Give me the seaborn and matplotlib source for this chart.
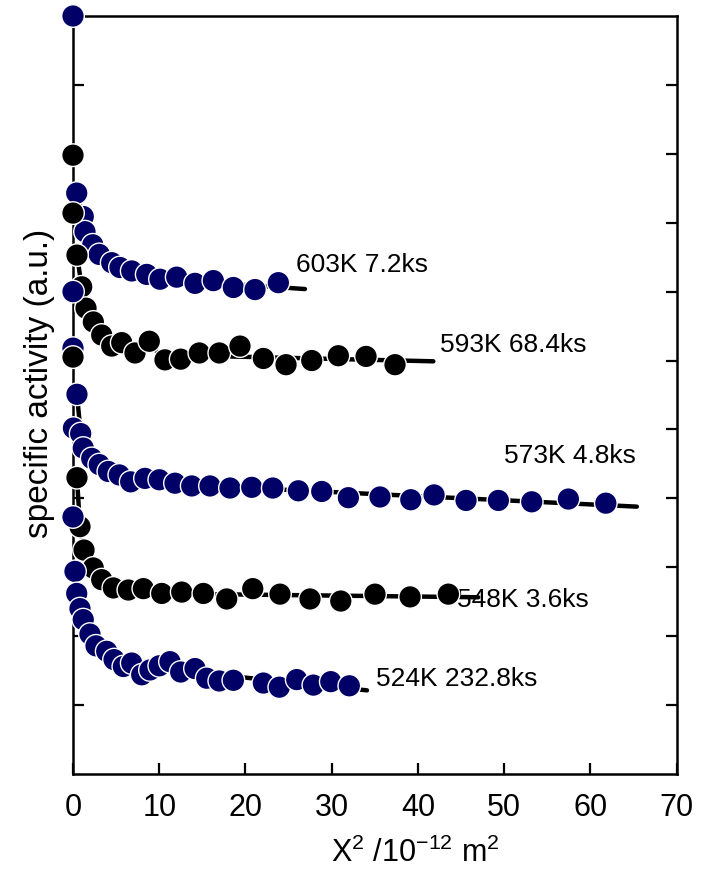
import numpy as np
import pandas as pd
import matplotlib
matplotlib.use("Agg")
import matplotlib.pyplot as plt
import seaborn as sns

# ---------------- data ----------------
series_names = ["603K 7.2ks", "593K 68.4ks", "573K 4.8ks", "548K 3.6ks", "524K 232.8ks"]
series_colors = ["#000066", "#000000", "#000066", "#000000", "#000066"]

x_603 = [0.0, 0.43, 1.19, 1.39, 2.29, 3.05, 4.49, 5.45, 6.81, 8.55, 10.09, 12.03,
         14.15, 16.28, 18.6, 21.11, 23.82]
y_603 = [11.0, 8.43, 8.09, 7.87, 7.68, 7.54, 7.42, 7.35, 7.30, 7.25, 7.18, 7.21,
         7.12, 7.16, 7.06, 7.03, 7.13]

x_593 = [0.0, 0.0, 0.46, 1.01, 1.51, 2.36, 3.33, 4.49, 5.65, 7.19, 8.85, 10.67,
         12.49, 14.65, 16.97, 19.37, 22.08, 24.71, 27.69, 30.78, 33.99, 37.35]
y_593 = [8.98, 8.14, 7.53, 7.07, 6.76, 6.56, 6.37, 6.21, 6.26, 6.11, 6.28, 6.01,
         6.02, 6.11, 6.11, 6.21, 6.03, 5.94, 6.00, 6.07, 6.06, 5.94]

x_573 = [0.0, 0.0, 0.46, 0.05, 0.89, 1.19, 2.17, 3.05, 4.10, 5.37, 6.69, 8.35,
         10.01, 11.83, 13.77, 15.89, 18.21, 20.73, 23.17, 26.14, 28.85, 31.94,
         35.61, 39.18, 41.88, 45.59, 49.34, 53.21, 57.46, 61.80]
y_573 = [7.00, 6.18, 5.51, 5.02, 4.94, 4.73, 4.58, 4.49, 4.39, 4.34, 4.24, 4.29,
         4.27, 4.22, 4.18, 4.18, 4.15, 4.16, 4.15, 4.11, 4.10, 4.01,
         4.02, 3.98, 4.05, 3.97, 3.97, 3.95, 3.99, 3.93]

x_548 = [0.0, 0.46, 0.81, 1.28, 2.35, 3.33, 4.68, 6.42, 8.16, 10.29, 12.61, 15.12,
         17.83, 20.85, 24.01, 27.49, 31.06, 35.03, 39.10, 43.54]
y_548 = [6.05, 4.30, 3.59, 3.25, 2.99, 2.82, 2.70, 2.67, 2.69, 2.62, 2.64, 2.62,
         2.54, 2.69, 2.61, 2.54, 2.51, 2.61, 2.57, 2.61]

x_524 = [0.0, 0.23, 0.43, 0.81, 1.19, 1.97, 2.67, 3.91, 4.76, 5.84, 6.81, 7.97,
         8.93, 10.01, 11.25, 12.49, 14.15, 15.51, 16.97, 18.60, 22.08, 23.93,
         25.95, 27.88, 29.90, 32.05]
y_524 = [3.73, 2.94, 2.62, 2.40, 2.24, 2.03, 1.86, 1.78, 1.66, 1.56, 1.61, 1.44,
         1.51, 1.57, 1.63, 1.48, 1.53, 1.39, 1.35, 1.36, 1.32, 1.26,
         1.37, 1.29, 1.34, 1.28]

series_x = [x_603, x_593, x_573, x_548, x_524]
series_y = [y_603, y_593, y_573, y_548, y_524]

# end of the fitted tail line for each series
fit_end_x = [26.9, 41.8, 65.4, 47.0, 34.1]
tail_start_x = 10.0
head_start_x = 0.3

# label positions (data coords, left / baseline)
label_x = [25.85, 42.6, 50.0, 44.5, 35.15]
label_y = [7.29, 6.12, 4.51, 2.43, 1.27]

x_ticks = [0, 10, 20, 30, 40, 50, 60, 70]
y_ticks = [1, 2, 3, 4, 5, 6, 7, 8, 9, 10]

# ---------------- styling ----------------
sns.set_style("ticks")
plt.rcParams["font.family"] = ["Liberation Sans", "DejaVu Sans"]
plt.rcParams["mathtext.default"] = "regular"
plt.rcParams["text.color"] = "black"
plt.rcParams["axes.labelcolor"] = "black"
plt.rcParams["xtick.color"] = "black"
plt.rcParams["ytick.color"] = "black"

fig = plt.figure(figsize=(7.16, 8.74), dpi=100)
ax = fig.add_axes([73 / 716, 1 - 774 / 874, (676.5 - 73) / 716, (774 - 16) / 874])

# fitted lines: head connects points, tail is a straight least-squares line
for xs, ys, xe in zip(series_x, series_y, fit_end_x):
    xs = np.asarray(xs)
    ys = np.asarray(ys)
    head = (xs <= tail_start_x + 0.5) & (xs >= head_start_x)
    tail = xs >= tail_start_x
    k, b = np.polyfit(xs[tail], ys[tail], 1)
    hx = list(xs[head]) + [tail_start_x]
    hy = list(ys[head]) + [k * tail_start_x + b]
    line_df = pd.DataFrame({"x": hx + [tail_start_x, xe],
                            "y": hy + [k * tail_start_x + b, k * xe + b],
                            "part": ["h"] * len(hx) + ["t", "t"]})
    sns.lineplot(data=line_df, x="x", y="y", units="part", estimator=None,
                 sort=False, color="black", lw=3.2, ax=ax, zorder=2,
                 legend=False)

# markers
rows = []
for name, xs, ys in zip(series_names, series_x, series_y):
    for xv, yv in zip(xs, ys):
        rows.append({"x": xv, "y": yv, "series": name})
df = pd.DataFrame(rows)
sns.scatterplot(data=df, x="x", y="y", hue="series",
                palette=dict(zip(series_names, series_colors)),
                s=265, edgecolor="white", linewidth=1.0, ax=ax,
                legend=False, zorder=3)
for coll in ax.collections:
    coll.set_clip_on(False)
    coll.set_zorder(3)

# labels for each curve
for name, lx, ly in zip(series_names, label_x, label_y):
    ax.text(lx, ly, name, fontsize=19, ha="left", va="baseline", zorder=1,
            color="black")

ax.set_xlim(0, 70)
ax.set_ylim(0, 11)
ax.set_xticks(x_ticks)
ax.set_yticks(y_ticks)
ax.set_yticklabels([])
ax.tick_params(axis="x", direction="in", length=8, width=1.6, labelsize=22,
               pad=14, top=False, colors="black")
ax.tick_params(axis="y", direction="in", length=8, width=1.6, left=True,
               right=True, labelleft=False, colors="black")
for sp in ax.spines.values():
    sp.set_linewidth(1.8)
    sp.set_color("black")
    sp.set_visible(True)

ax.set_xlabel("X$^2$ /10$^{-12}$ m$^2$", fontsize=22, color="black")
ax.xaxis.set_label_coords(0.568, -0.116)
ax.xaxis.label.set_verticalalignment("baseline")
ax.set_ylabel("specific activity (a.u.)", fontsize=24, color="black")
ax.yaxis.set_label_coords(-0.055, 0.515)
ax.yaxis.label.set_verticalalignment("center")

fig.savefig("out.png", dpi=100)
